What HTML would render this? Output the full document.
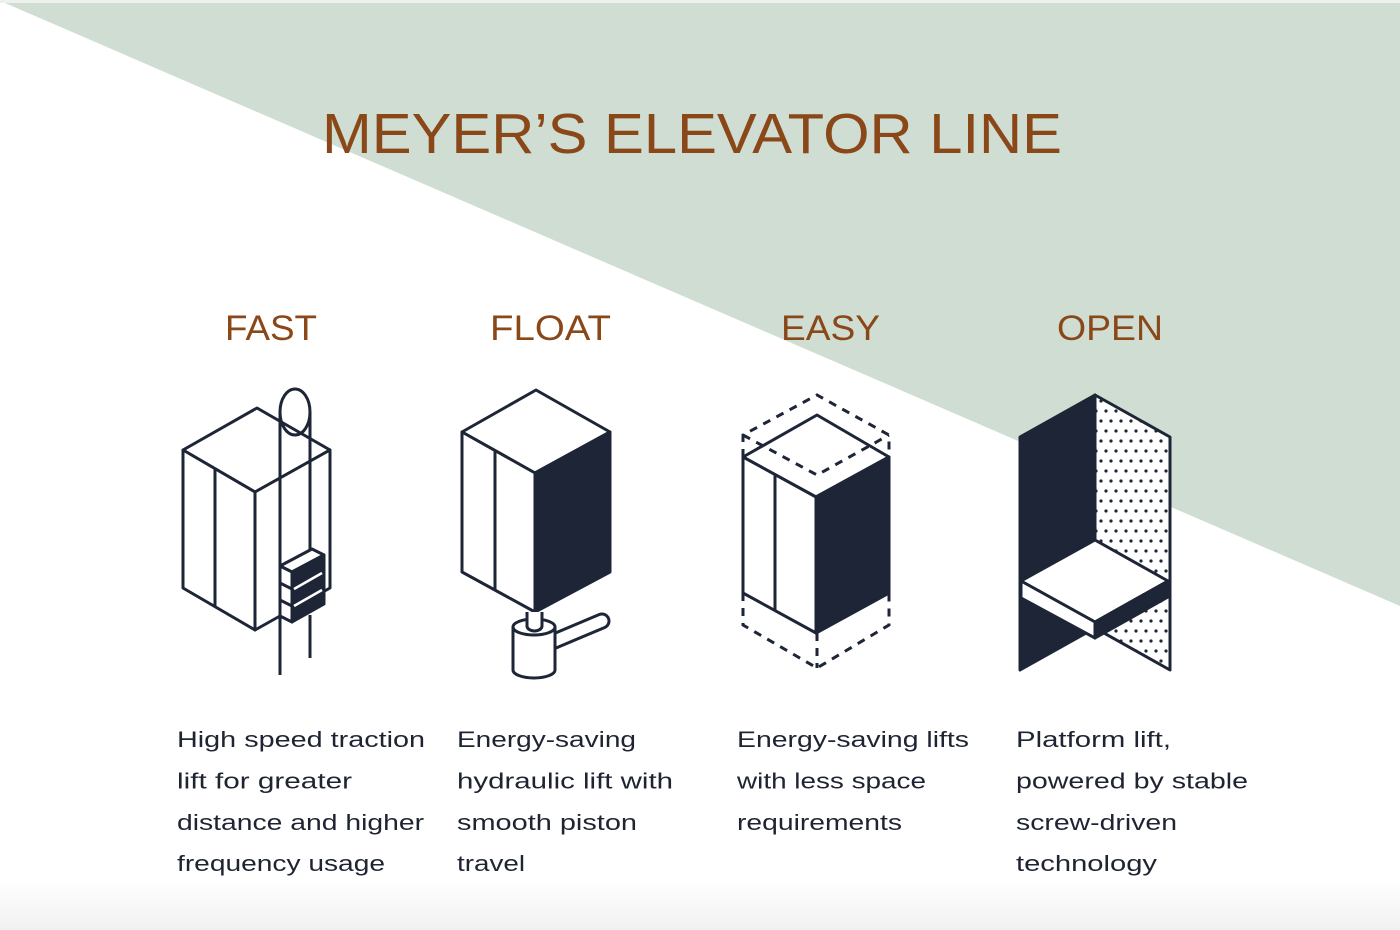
<!DOCTYPE html>
<html>
<head>
<meta charset="utf-8">
<style>
  html, body { margin: 0; padding: 0; background: #ffffff; }
  body { width: 1400px; height: 930px; overflow: hidden; }
  svg { display: block; }
  .ttl { font-family: "Liberation Sans", sans-serif; fill: #8a4718; }
  .bd { font-family: "Liberation Sans", sans-serif; fill: #1f2433; font-size: 22px; }
</style>
</head>
<body>
<svg width="1400" height="930" viewBox="0 0 1400 930" xmlns="http://www.w3.org/2000/svg">
  <defs>
    <linearGradient id="btm" x1="0" y1="0" x2="0" y2="1">
      <stop offset="0" stop-color="#ffffff"/>
      <stop offset="1" stop-color="#f1f1f1"/>
    </linearGradient>
    <pattern id="dots" x="1096" y="396" width="10" height="20" patternUnits="userSpaceOnUse">
      <rect width="10" height="20" fill="#ffffff"/>
      <circle cx="5" cy="5" r="1.6" fill="#1d2536"/>
      <circle cx="0" cy="15" r="1.6" fill="#1d2536"/>
      <circle cx="10" cy="15" r="1.6" fill="#1d2536"/>
    </pattern>
  </defs>

  <!-- background -->
  <rect x="0" y="0" width="1400" height="930" fill="#ffffff"/>
  <polygon points="5,3 1400,3 1400,606" fill="#cfddd3"/>
  <rect x="0" y="0" width="1400" height="3" fill="#eef1ee"/>
  <rect x="0" y="880" width="1400" height="50" fill="url(#btm)"/>

  <!-- title -->
  <text class="ttl" x="322" y="153" font-size="57" textLength="740" lengthAdjust="spacingAndGlyphs">MEYER’S ELEVATOR LINE</text>

  <!-- headings -->
  <text class="ttl" x="225" y="340" font-size="35" textLength="92" lengthAdjust="spacingAndGlyphs">FAST</text>
  <text class="ttl" x="490" y="340" font-size="35" textLength="121" lengthAdjust="spacingAndGlyphs">FLOAT</text>
  <text class="ttl" x="781" y="340" font-size="35" textLength="99" lengthAdjust="spacingAndGlyphs">EASY</text>
  <text class="ttl" x="1057" y="340" font-size="35" textLength="106" lengthAdjust="spacingAndGlyphs">OPEN</text>

  <!-- FAST icon -->
  <g stroke="#1d2536" stroke-width="3" stroke-linejoin="round" fill="#ffffff">
    <polygon points="183,450 257,408 330,450 255,492"/>
    <polygon points="183,450 255,492 255,630 183,588"/>
    <polygon points="255,492 330,450 330,588 255,630"/>
    <line x1="215" y1="469" x2="215" y2="607"/>
    <ellipse cx="295" cy="412" rx="15" ry="23" fill="none"/>
    <line x1="280" y1="412" x2="280" y2="675"/>
    <line x1="310" y1="412" x2="310" y2="552"/>
    <line x1="310" y1="615" x2="310" y2="658"/>
    <!-- counterweight -->
    <polygon points="280,566 312,549 324,555 292,572"/>
    <polygon points="280,566 292,572 292,622 280,616"/>
    <polygon points="292,572 324,555 324,604 292,622" fill="#1d2536"/>
    <line x1="280" y1="583" x2="292" y2="589"/>
    <line x1="280" y1="600" x2="292" y2="606"/>
  </g>
  <g stroke="#ffffff" stroke-width="2.5">
    <line x1="294" y1="589" x2="322" y2="573"/>
    <line x1="294" y1="606" x2="322" y2="590"/>
  </g>

  <!-- FLOAT icon -->
  <g stroke="#1d2536" stroke-width="3" stroke-linejoin="round" fill="#ffffff">
    <polygon points="462,432 536,390 610,432 535,473"/>
    <polygon points="462,432 535,473 535,612 462,572"/>
    <polygon points="535,473 610,432 610,572 535,612" fill="#1d2536"/>
    <line x1="495" y1="451" x2="495" y2="590"/>
  </g>
  <line x1="545" y1="645" x2="602" y2="621" stroke="#1d2536" stroke-width="17" stroke-linecap="round"/>
  <line x1="545" y1="645" x2="602" y2="621" stroke="#ffffff" stroke-width="11" stroke-linecap="round"/>
  <g stroke="#1d2536" stroke-width="3" stroke-linejoin="round" fill="#ffffff">
    <path d="M513,627 L513,670 A21,8 0 0 0 555,670 L555,627 Z"/>
    <ellipse cx="534" cy="627" rx="21" ry="8"/>
    <path d="M527,612 L527,626 A7.5,5 0 0 0 542,626 L542,612"/>
  </g>

  <!-- EASY icon -->
  <g stroke="#1d2536" stroke-width="3" stroke-linejoin="round" fill="#ffffff">
    <polygon points="743,457 817,415 889,457 816,497"/>
    <polygon points="743,457 816,497 816,633 743,593"/>
    <polygon points="816,497 889,457 889,593 816,633" fill="#1d2536"/>
    <line x1="775" y1="475" x2="775" y2="611"/>
  </g>
  <g stroke="#1d2536" stroke-width="3" fill="none" stroke-dasharray="8 7">
    <polyline points="743,457 743,435 817,395 889,435 889,457"/>
    <polyline points="743,435 817,475 889,435"/>
    <polyline points="743,593 743,625 817,668 889,625 889,593"/>
    <line x1="817" y1="633" x2="817" y2="668"/>
  </g>

  <!-- OPEN icon -->
  <g stroke="#1d2536" stroke-width="3" stroke-linejoin="round">
    <polygon points="1020,437 1095,395 1095,628 1020,670" fill="#1d2536"/>
    <polygon points="1095,395 1170,437 1170,670 1095,628" fill="url(#dots)"/>
    <polygon points="1021,581 1095,540 1168,581 1095,622" fill="#ffffff"/>
    <polygon points="1021,581 1095,622 1095,638 1021,598" fill="#ffffff"/>
    <polygon points="1095,622 1168,581 1168,597 1095,638" fill="#1d2536"/>
  </g>

  <!-- descriptions -->
  <text class="bd" x="177" y="747" textLength="248" lengthAdjust="spacingAndGlyphs">High speed traction</text>
  <text class="bd" x="177" y="788.5" textLength="175" lengthAdjust="spacingAndGlyphs">lift for greater</text>
  <text class="bd" x="177" y="830" textLength="247" lengthAdjust="spacingAndGlyphs">distance and higher</text>
  <text class="bd" x="177" y="871" textLength="208" lengthAdjust="spacingAndGlyphs">frequency usage</text>

  <text class="bd" x="457" y="747" textLength="179" lengthAdjust="spacingAndGlyphs">Energy-saving</text>
  <text class="bd" x="457" y="788.5" textLength="216" lengthAdjust="spacingAndGlyphs">hydraulic lift with</text>
  <text class="bd" x="457" y="830" textLength="180" lengthAdjust="spacingAndGlyphs">smooth piston</text>
  <text class="bd" x="457" y="871" textLength="68" lengthAdjust="spacingAndGlyphs">travel</text>

  <text class="bd" x="737" y="747" textLength="232" lengthAdjust="spacingAndGlyphs">Energy-saving lifts</text>
  <text class="bd" x="737" y="788.5" textLength="189" lengthAdjust="spacingAndGlyphs">with less space</text>
  <text class="bd" x="737" y="830" textLength="165" lengthAdjust="spacingAndGlyphs">requirements</text>

  <text class="bd" x="1016" y="747" textLength="155" lengthAdjust="spacingAndGlyphs">Platform lift,</text>
  <text class="bd" x="1016" y="788.5" textLength="232" lengthAdjust="spacingAndGlyphs">powered by stable</text>
  <text class="bd" x="1016" y="830" textLength="161" lengthAdjust="spacingAndGlyphs">screw-driven</text>
  <text class="bd" x="1016" y="871" textLength="141" lengthAdjust="spacingAndGlyphs">technology</text>
</svg>
</body>
</html>
